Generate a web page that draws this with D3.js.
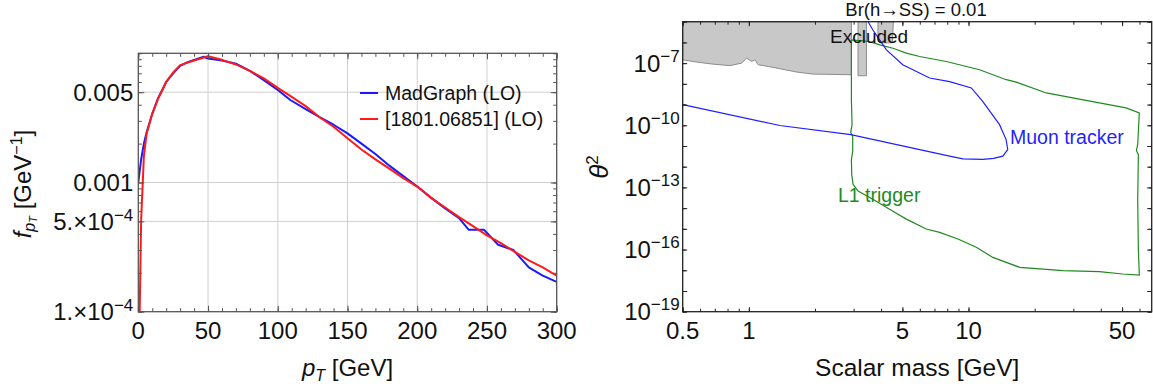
<!DOCTYPE html>
<html>
<head>
<meta charset="utf-8">
<script src="https://cdn.jsdelivr.net/npm/d3@7"></script>
<style>
  body { margin: 0; background: #fff; }
  svg { font-family: "Liberation Sans", Arial, sans-serif; }
</style>
</head>
<body>
<svg id="chart" width="1153" height="387"></svg>
<script>
// ---------- left panel: pT spectrum ----------
const ptMadGraph = [
    [0, 0.00100], [2, 0.00150], [4, 0.00200], [6, 0.00245], [10, 0.00340], [14, 0.00445],
    [20, 0.0060], [25, 0.0070], [30, 0.0080], [35, 0.0085], [40, 0.0089], [47, 0.0094],
    [50, 0.0091], [60, 0.0088], [70, 0.0083], [80, 0.0073], [90, 0.0062], [100, 0.0052],
    [109, 0.00435], [120, 0.0037], [130, 0.0032], [140, 0.0028], [150, 0.0024], [160, 0.0020],
    [170, 0.00166], [180, 0.00135], [190, 0.00112], [200, 0.00093], [210, 0.00076],
    [220, 0.00063], [230, 0.00053], [237, 0.00043], [248, 0.00043], [258, 0.00033],
    [269, 0.00030], [280, 0.00022], [290, 0.00019], [300, 0.00017]
];
const ptPaper = [
    [0.5, 0.00003], [1, 0.00010], [2, 0.00050], [4, 0.0016], [6, 0.0024], [10, 0.0034],
    [14, 0.0044], [20, 0.0060], [25, 0.0071], [30, 0.0081], [40, 0.0088], [50, 0.0095],
    [60, 0.0089], [70, 0.0082], [80, 0.0073], [90, 0.0064], [100, 0.0054], [110, 0.0046],
    [120, 0.0039], [130, 0.0032], [140, 0.0027], [150, 0.0022], [160, 0.0018], [170, 0.00151],
    [180, 0.00128], [190, 0.00108], [200, 0.00093], [210, 0.00076], [220, 0.00064],
    [230, 0.00054], [240, 0.00046], [250, 0.00039], [260, 0.00034], [270, 0.00029],
    [280, 0.00025], [290, 0.00022], [300, 0.00019]
];
const ptTickValues = [0, 50, 100, 150, 200, 250, 300];
const ptGridValues = [50, 100, 150, 200, 250];
const fTickValues = [0.005, 0.001, 5e-4, 1e-4];
const fTickLabels = [["0.005", ""], ["0.001", ""], ["5.\u00d710", "\u22124"], ["1.\u00d710", "\u22124"]];
const fGridValues = [0.005, 0.001, 5e-4];
const legendNames = ["MadGraph (LO)", "[1801.06851] (LO)"];

// ---------- right panel: theta^2 vs scalar mass (values are log10 theta^2) ----------
const excludedMain = [
    [0.5, -5], [0.5, -6.84], [0.579, -6.95], [0.688, -7.05], [0.82, -7.12], [0.927, -7.0],
    [0.977, -6.76], [1.03, -6.92], [1.066, -6.84], [1.103, -7.08], [1.225, -7.16],
    [1.384, -7.27], [1.65, -7.43], [1.96, -7.53], [2.93, -7.56], [2.93, -5]
];
const excludedBar = [[3.14, -5], [3.14, -7.61], [3.43, -7.61], [3.43, -5]];
const excludedSmall = [[3.87, -5], [3.87, -5.9], [3.95, -6.02], [4.5, -6.02], [4.55, -5]];
const l1Trigger = [
    [2.93, -5.88], [3.55, -5.96], [3.94, -6.12], [4.53, -6.28], [5.21, -6.52], [5.99, -6.68],
    [7.92, -6.92], [11.23, -7.32], [14.85, -7.80], [16.5, -7.92], [22.6, -8.44], [29.8, -8.68],
    [39.4, -8.92], [52.1, -9.16], [59.9, -9.40], [58.9, -10.93], [58.1, -11.22], [59.3, -11.41],
    [58.9, -13.58], [59.3, -15.98], [59.9, -17.23], [50.3, -17.18], [39.4, -17.07],
    [26.9, -17.02], [17.1, -16.86], [12.9, -16.38], [10.85, -15.89], [8.95, -15.49],
    [7.39, -15.17], [6.42, -15.01], [5.21, -14.53], [4.37, -14.05], [3.67, -13.57],
    [3.14, -13.17], [2.98, -12.85], [2.94, -12.37], [2.93, -11.65], [2.97, -11.26],
    [2.97, -10.54], [2.91, -10.35], [2.95, -9.97], [2.93, -8.76], [2.93, -5.88]
];
const muonTracker = [
    [3.49, -5.0], [3.67, -5.40], [3.94, -5.88], [4.23, -6.36], [5.02, -7.08], [6.65, -7.72],
    [8.2, -7.89], [10.3, -8.20], [11.6, -8.85], [13.84, -9.97], [14.83, -10.69],
    [15.08, -11.17], [14.33, -11.49], [13.0, -11.60], [11.6, -11.65], [9.43, -11.62],
    [8.2, -11.49], [2.91, -10.45], [1.384, -10.01], [0.5, -9.0]
];
const massTickValues = [0.5, 1, 5, 10, 50];
const massTickLabels = ["0.5", "1", "5", "10", "50"];
const thetaTickValues = [1e-7, 1e-10, 1e-13, 1e-16, 1e-19];
const thetaTickLabels = ["\u22127", "\u221210", "\u221213", "\u221216", "\u221219"];

const svg = d3.select("#chart");

// log minor ticks between two decades (exponents)
function logTicks(e0, e1) {
    const out = [];
    for (let e = e0; e < e1; e++) {
        for (let k = 1; k < 10; k++) out.push(k * Math.pow(10, e));
    }
    out.push(Math.pow(10, e1));
    return out;
}

// draws inward ticks on all four sides of a frame
function drawFrameTicks(g, x, y, box, xMajor, xMinor, yMajor, yMinor, major, minor, color) {
    const sides = [
        [d3.axisBottom, x, `translate(0,${box.b})`, xMajor, xMinor],
        [d3.axisTop, x, `translate(0,${box.t})`, xMajor, xMinor],
        [d3.axisLeft, y, `translate(${box.l},0)`, yMajor, yMinor],
        [d3.axisRight, y, `translate(${box.r},0)`, yMajor, yMinor]
    ];
    sides.forEach(([axisFn, sc, tr, maj, mnr]) => {
        [[mnr, minor], [maj, major]].forEach(([vals, len]) => {
            const a = g.append("g").attr("transform", tr)
                .call(axisFn(sc).tickValues(vals).tickSize(-len).tickFormat(""));
            a.select(".domain").remove();
            a.selectAll("line").attr("stroke", color).attr("stroke-width", 1);
        });
    });
}

// ================= LEFT PANEL =================
const L = { l: 138.3, r: 556.7, t: 53.3, b: 311.7 };
const xPt = d3.scaleLinear().domain([0, 300]).range([L.l, L.r]);
const yF = d3.scaleLog().domain([1e-4, 1e-2]).range([L.b, L.t]);
const left = svg.append("g");

left.append("clipPath").attr("id", "clipL")
    .append("rect").attr("x", L.l).attr("y", L.t).attr("width", L.r - L.l).attr("height", L.b - L.t);

// grid
left.selectAll(".gx").data(ptGridValues).enter().append("line")
    .attr("x1", d => xPt(d)).attr("x2", d => xPt(d)).attr("y1", L.t).attr("y2", L.b)
    .attr("stroke", "#cfcfcf").attr("stroke-width", 1);
left.selectAll(".gy").data(fGridValues).enter().append("line")
    .attr("x1", L.l).attr("x2", L.r).attr("y1", d => yF(d)).attr("y2", d => yF(d))
    .attr("stroke", "#cfcfcf").attr("stroke-width", 1);

// curves
const linePt = d3.line().x(d => xPt(d[0])).y(d => yF(Math.max(d[1], 1e-6)));
[[ptMadGraph, "#1a1aff"], [ptPaper, "#ff1a1a"]].forEach(([data, color]) => {
    left.append("path").datum(data).attr("d", linePt).attr("clip-path", "url(#clipL)")
        .attr("fill", "none").attr("stroke", color).attr("stroke-width", 2).attr("stroke-linejoin", "round");
});

// frame + ticks
left.append("rect").attr("x", L.l).attr("y", L.t).attr("width", L.r - L.l).attr("height", L.b - L.t)
    .attr("fill", "none").attr("stroke", "#555").attr("stroke-width", 1.3);
drawFrameTicks(left, xPt, yF, L, ptTickValues, d3.range(0, 301, 10),
    fTickValues, logTicks(-4, -2), 6, 3.5, "#555");

// tick labels
left.selectAll(".xl").data(ptTickValues).enter().append("text")
    .attr("x", d => xPt(d)).attr("y", 339).attr("text-anchor", "middle")
    .attr("font-size", 24).attr("fill", "#111").text(d => d);
fTickValues.forEach((v, i) => {
    const t = left.append("text").attr("x", L.l - 5).attr("y", yF(v) + 8.5)
        .attr("text-anchor", "end").attr("font-size", 24).attr("fill", "#111");
    t.append("tspan").text(fTickLabels[i][0]);
    if (fTickLabels[i][1]) {
        t.append("tspan").attr("font-size", 17).attr("dy", -9).text(fTickLabels[i][1]);
    }
});

// axis labels
const xlab = left.append("text").attr("x", (L.l + L.r) / 2).attr("y", 376)
    .attr("text-anchor", "middle").attr("font-size", 24).attr("fill", "#111");
xlab.append("tspan").attr("font-style", "italic").text("p");
xlab.append("tspan").attr("font-style", "italic").attr("font-size", 16).attr("dy", 5).text("T");
xlab.append("tspan").attr("dy", -5).text(" [GeV]");

const ylab = left.append("text").attr("transform", "translate(31,184) rotate(-90)")
    .attr("text-anchor", "middle").attr("font-size", 24).attr("fill", "#111");
ylab.append("tspan").attr("font-style", "italic").text("f");
ylab.append("tspan").attr("font-style", "italic").attr("font-size", 16).attr("dy", 4).text("p");
ylab.append("tspan").attr("font-style", "italic").attr("font-size", 11).attr("dy", 2).text("T");
ylab.append("tspan").attr("dy", -6).text(" [GeV");
ylab.append("tspan").attr("font-size", 16).attr("dy", -9).text("\u22121");
ylab.append("tspan").attr("dy", 9).text("]");

// legend
legendNames.forEach((name, i) => {
    const y = 93 + i * 26;
    left.append("line").attr("x1", 360).attr("x2", 378).attr("y1", y).attr("y2", y)
        .attr("stroke", i === 0 ? "#1a1aff" : "#ff1a1a").attr("stroke-width", 2);
    left.append("text").attr("x", 385).attr("y", y + 7)
        .attr("font-size", 19.5).attr("fill", "#111").text(name);
});

// ================= RIGHT PANEL =================
const R = { l: 682.7, r: 1151.7, t: 21.7, b: 311.7 };
const xM = d3.scaleLog().domain([0.5, 68.2]).range([R.l, R.r]);
const yT = d3.scaleLog().domain([1e-19, 1e-5]).range([R.b, R.t]);
const right = svg.append("g");

right.append("clipPath").attr("id", "clipR")
    .append("rect").attr("x", R.l).attr("y", R.t).attr("width", R.r - R.l).attr("height", R.b - R.t);

const lineM = d3.line().x(d => xM(d[0])).y(d => yT(Math.pow(10, d[1])));

// excluded regions
[excludedMain, excludedBar, excludedSmall].forEach(reg => {
    right.append("path").datum(reg).attr("d", d => lineM(d) + "Z").attr("clip-path", "url(#clipR)")
        .attr("fill", "#c8c8c8").attr("stroke", "#8c8c8c").attr("stroke-width", 1);
});

// sensitivity contours
right.append("path").datum(l1Trigger).attr("d", lineM).attr("clip-path", "url(#clipR)")
    .attr("fill", "none").attr("stroke", "#1f8a1f").attr("stroke-width", 1.2);
right.append("path").datum(muonTracker).attr("d", lineM).attr("clip-path", "url(#clipR)")
    .attr("fill", "none").attr("stroke", "#1f1fff").attr("stroke-width", 1.2);

// frame + ticks
right.append("rect").attr("x", R.l).attr("y", R.t).attr("width", R.r - R.l).attr("height", R.b - R.t)
    .attr("fill", "none").attr("stroke", "#222").attr("stroke-width", 1.3);
const massMinor = logTicks(-1, 1).filter(v => v >= 0.5).concat([20, 30, 40, 50, 60]);
const thetaDecades = d3.range(-19, -4).map(e => Math.pow(10, e));
drawFrameTicks(right, xM, yT, R, massTickValues, massMinor,
    thetaDecades, thetaDecades, 4.5, 3, "#222");

// tick labels
massTickValues.forEach((v, i) => {
    right.append("text").attr("x", xM(v)).attr("y", 339).attr("text-anchor", "middle")
        .attr("font-size", 24).attr("fill", "#111").text(massTickLabels[i]);
});
thetaTickValues.forEach((v, i) => {
    const t = right.append("text").attr("x", R.l - 3).attr("y", yT(v) + 8.5)
        .attr("text-anchor", "end").attr("font-size", 24).attr("fill", "#111");
    t.append("tspan").text("10");
    t.append("tspan").attr("font-size", 17).attr("dy", -10).text(thetaTickLabels[i]);
});

// labels
right.append("text").attr("x", (R.l + R.r) / 2).attr("y", 376).attr("text-anchor", "middle")
    .attr("font-size", 24.5).attr("fill", "#111").text("Scalar mass [GeV]");
const tlab = right.append("text").attr("transform", "translate(608,167) rotate(-90)")
    .attr("text-anchor", "middle").attr("font-size", 26).attr("fill", "#111");
tlab.append("tspan").attr("font-style", "italic").text("\u03b8");
tlab.append("tspan").attr("font-size", 17).attr("dy", -10).text("2");

right.append("text").attr("x", 916).attr("y", 15.5).attr("text-anchor", "middle")
    .attr("font-size", 18.5).attr("fill", "#111").text("Br(h\u2192SS) = 0.01");
right.append("text").attr("x", 830).attr("y", 43).attr("font-size", 19)
    .attr("fill", "#111").text("Excluded");
right.append("text").attr("x", 1010).attr("y", 144).attr("font-size", 19.5)
    .attr("fill", "#1f1fff").text("Muon tracker");
right.append("text").attr("x", 838).attr("y", 201.5).attr("font-size", 19.5)
    .attr("fill", "#1f8a1f").text("L1 trigger");
</script>
</body>
</html>
